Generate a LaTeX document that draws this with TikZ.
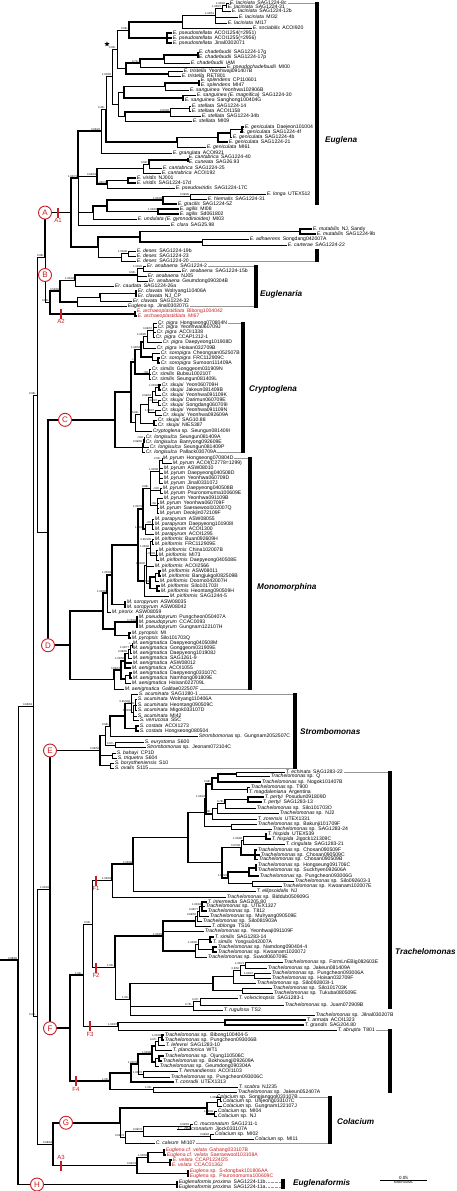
\documentclass[tikz,border=0pt]{standalone}
\usepackage{fontspec}
\setmainfont{Liberation Sans}
\usetikzlibrary{calc,shapes.geometric}
\definecolor{rd}{RGB}{200,30,35}
\definecolor{glc}{RGB}{150,150,150}
\tikzset{
 leaf/.style={anchor=west, inner xsep=0.7pt, inner ysep=0pt, font=\fontsize{5.1}{5}\selectfont, text height=3.6pt, text depth=1pt},
 redtxt/.style={text=rd},
 br/.style={line width=0.6pt},
 tk/.style={line width=1.7pt},
 sup/.style={font=\fontsize{2.7}{3}\selectfont, inner sep=0.3pt, anchor=south east},
 circ/.style={circle, draw=rd, line width=0.9pt, fill=white, text=rd, minimum size=13pt, inner sep=0pt, font=\fontsize{8}{8}\selectfont},
 rbar/.style={draw=rd, line width=1.6pt},
 rlab/.style={text=rd, font=\fontsize{6}{6}\selectfont, inner sep=0.5pt},
 genus/.style={anchor=west, font=\fontsize{8.2}{9}\selectfont\bfseries\itshape, inner sep=0pt},
 gln/.style={draw=glc, line width=0.35pt},
}
\newcommand\lf[6][]{\node[leaf,#1] (#2) at (#3,#4) {\textit{#5}\enspace #6};}
\newcommand\ls[6][]{\node[leaf,#1] (#2) at (#3,#4) {\textit{#5} sp.\enspace #6};}
\newcommand\nd[6][]{%
 \path let \p1=(#4), \p2=(#5) in coordinate (#2) at (#3pt,{(\y1+\y2)/2});
 \draw[br,#1] (#2) |- (#4);
 \draw[br,#1] (#2) |- (#5);
 \if\relax\detokenize{#6}\relax\else
 \foreach \mych in {#6}{\draw[br,#1] (#2) |- (\mych);}%
 \fi}
\newcommand\ek[2]{\draw[br,tk] (#1) |- (#2);}
\newcommand\supl[2]{\node[sup] (s-#1) at ([xshift=-0.4pt,yshift=0.3pt]#1) {#2};}
\newcommand\circat[4]{\path let \p1=(#2) in node[circ] (#1) at (#3pt,\y1) {#4};}
\newcommand\rmark[6]{%
 \path let \p1=(#2) in coordinate (#1t) at (#3pt,\y1+5pt) coordinate (#1b) at (#3pt,\y1-5pt);
 \draw[rbar] (#1t) -- (#1b);
 \node[rlab, anchor=#6] (#1l) at (#1#5) {#4};}
\begin{document}
\begin{tikzpicture}[x=1pt,y=-1pt]
\fill[white] (0,0) rectangle (456,1191);
\useasboundingbox (0,0) rectangle (456,1191);
% ---------------- Euglena leaves
\lf{e1}{229}{3}{E. laciniata}{SAG1224-8c}
\lf{e2}{227}{7}{E. laciniata}{SAG1224-31}
\lf{e3}{231}{11.5}{E. laciniata}{SAG1224-12b}
\lf{e4}{238}{17.5}{E. laciniata}{MI32}
\lf{e5}{227}{23}{E. laciniata}{MI17}
\lf{e6}{252}{28}{E. sociabilis}{ACOI920}
\lf{e7}{172}{33}{E. pseudostellata}{ACOI1254(=2951)}
\lf{e8}{172}{38}{E. pseudostellata}{ACOI1255(=2956)}
\lf{e9}{172}{43}{E. pseudostellata}{Jinal0302071}
\lf{e10}{198}{52}{E. chadefaudii}{SAG1224-17g}
\lf{e11}{198}{57.5}{E. chadefaudii}{SAG1224-17p}
\lf{e12}{190}{63}{E. chadefaudii}{IAM}
\lf{e13}{226}{67.5}{E. pseudochadefaudii}{MI00}
\lf{e14}{183}{71.5}{E. tristella}{Yeonhwaji091407B}
\lf{e15}{181}{76}{E. tristella}{RET801}
\lf{e16}{200}{80.5}{E. splendens}{CP110601}
\lf{e17}{200}{85}{E. splendens}{MI47}
\lf{e18}{189}{90}{E. sanguinea}{Yeonhwa102906B}
\lf{e19}{196}{95.5}{E. sanguinea (E. magnifica)}{SAG1224-30}
\lf{e20}{184}{100.5}{E. sanguinea}{Sanghong100404G}
\lf{e21}{191}{106}{E. stellata}{SAG1224-14}
\lf{e22}{191}{111}{E. stellata}{ACOI1158}
\lf{e23}{201}{116}{E. stellata}{SAG1224-34b}
\lf{e24}{192}{121}{E. stellata}{MI09}
\lf{e25}{244}{127}{E. geniculata}{Daejeon101004}
\lf{e26}{240}{132}{E. geniculata}{SAG1224-4f}
\lf{e27}{232}{137}{E. geniculata}{SAG1224-4b}
\lf{e28}{228}{142}{E. geniculata}{SAG1224-21}
\lf{e29}{206}{147}{E. geniculata}{MI61}
\lf{e30}{172}{153}{E. granulata}{ACOI921}
\lf{e31}{188}{157.5}{E. cantabrica}{SAG1224-40}
\lf{e32}{188}{162}{E. cuneata}{SAG26.93}
\lf{e33}{162}{168}{E. cantabrica}{SAG1224-25}
\lf{e34}{161}{173}{E. cantabrica}{ACOI192}
\lf{e35}{136}{178}{E. viridis}{NJ001}
\lf{e36}{136}{183}{E. viridis}{SAG1224-17d}
\lf{e37}{175}{188}{E. pseudoviridis}{SAG1224-17C}
\lf{e38}{266}{194}{E. longa}{UTEX512}
\lf{e39}{207}{199}{E. hiemalis}{SAG1224-31}
\lf{e40}{177}{204}{E. gracilis}{SAG1224-5Z}
\lf{e41}{179}{209}{E. agilis}{MI08}
\lf{e42}{179}{214}{E. agilis}{Sd061802}
\lf{e43}{137}{219}{E. undulata (E. gymnodinioides)}{MI03}
\lf{e44}{170}{225}{E. clara}{SAG25.98}
\lf{e45}{312}{229}{E. mutabilis}{NJ, Sandy}
\lf{e46}{316}{234}{E. mutabilis}{SAG1224-9b}
\lf{e47}{249}{239}{E. adhaerens}{Songdang042007A}
\lf{e48}{287}{245}{E. carterae}{SAG1224-22}
\lf{e49}{136}{251}{E. deses}{SAG1224-19b}
\lf{e50}{136}{256}{E. deses}{SAG1224-23}
\lf{e51}{136}{261}{E. deses}{SAG1224-20}
% ---------------- Euglenaria
\lf{r1}{146}{266}{Er. anabaena}{SAG1224-2}
\lf{r2}{181}{271}{Er. anabaena}{SAG1224-15b}
\lf{r3}{147}{276}{Er. anabaena}{NJ05}
\lf{r4}{148}{281}{Er. anabaena}{Geumdong090304B}
\lf{r5}{114}{286}{Er. caudata}{SAG1224-26a}
\lf{r6}{137}{291}{Er. clavata}{Wolryang110406A}
\lf{r7}{137}{296}{Er. clavata}{NJ\_CP}
\lf{r8}{132}{301.5}{Er. clavata}{SAG1224-32}
\ls{r9}{127}{306.5}{Euglena}{Jinal030207G}
\lf[redtxt]{r10}{136}{311.5}{E. archaeoplastidiata}{Bibong1004042}
\lf[redtxt]{r11}{137}{316}{E. archaeoplastidiata}{MI67}
% ---------------- Cryptoglena
\lf{c1}{157}{323}{Cr. pigra}{Hongseong070804N}
\lf{c2}{157}{327.5}{Cr. pigra}{Yeonhwa060709J}
\lf{c3}{156}{332}{Cr. pigra}{ACOI1338}
\lf{c4}{155}{337}{Cr. pigra}{CCAP1212-1}
\lf{c5}{162}{342.5}{Cr. pigra}{Daepyeong101908D}
\lf{c6}{156}{348}{Cr. pigra}{Hoisan032709B}
\lf{c7}{160}{353}{Cr. soropigra}{Cheongsan052507B}
\lf{c8}{160}{358}{Cr. soropigra}{FRC112909C}
\lf{c9}{160}{363}{Cr. soropigra}{Sumoon111409A}
\lf{c10}{151}{369}{Cr. similis}{Gonggeom031909N}
\lf{c11}{151}{374}{Cr. similis}{Bubsu100210T}
\lf{c12}{151}{379}{Cr. similis}{Seungun081409L}
\lf{c13}{161}{385}{Cr. skujai}{Yeon060709H}
\lf{c14}{161}{390}{Cr. skujai}{Jakeun081409B}
\lf{c15}{161}{395}{Cr. skujai}{Yeonhwa091109K}
\lf{c16}{161}{400}{Cr. skujai}{Darimun060709E}
\lf{c17}{161}{405}{Cr. skujai}{Songdang060709I}
\lf{c18}{161}{410}{Cr. skujai}{Yeonhwa091109N}
\lf{c19}{162}{415}{Cr. skujai}{Yeonhwa092609A}
\lf{c20}{157}{420.5}{Cr. skujai}{SAG10.88}
\lf{c21}{157}{425.5}{Cr. skujai}{NIES387}
\ls{c22}{152}{431}{Cryptoglena}{Seungun081409I}
\lf{c23}{145}{437}{Cr. longisulca}{Seungun081409A}
\lf{c24}{145}{442}{Cr. longisulca}{Banryong092609E}
\lf{c25}{149}{447}{Cr. longisulca}{Seungun081409P}
\lf{c26}{145}{452}{Cr. longisulca}{Pallack030709A}
% ---------------- Monomorphina
\lf{m1}{162}{458}{M. pyrum}{Hongseong070804D}
\lf{m2}{172}{463}{M. pyrum}{ACOI(C2778=1299)}
\lf{m3}{163}{468}{M. pyrum}{ASW08010}
\lf{m4}{163}{473}{M. pyrum}{Daepyeong040508D}
\lf{m5}{163}{478}{M. pyrum}{Yeonhwa060709D}
\lf{m6}{163}{483}{M. pyrum}{Jinal033107J}
\lf{m7}{162}{488}{M. pyrum}{Daepyeong040508B}
\lf{m8}{163}{493}{M. pyrum}{Psuronomuma100609E}
\lf{m9}{163}{498}{M. pyrum}{Yeonhwa091109B}
\lf{m10}{159}{503}{M. pyrum}{Yeonhwa060709F}
\lf{m11}{159}{508}{M. pyrum}{Saeraewool102007Q}
\lf{m12}{159}{513}{M. pyrum}{Deokjin072109F}
\lf{m13}{154}{519}{M. parapyrum}{ASW08055}
\lf{m14}{154}{524}{M. parapyrum}{Daepyeong101908I}
\lf{m15}{154}{529}{M. parapyrum}{ACOI1300}
\lf{m16}{154}{534}{M. parapyrum}{ACOI1295}
\lf{m17}{154}{539}{M. piriformis}{Buan092609H}
\lf{m18}{154}{544}{M. piriformis}{FRC112909E}
\lf{m19}{158}{550}{M. piriformis}{China102007B}
\lf{m20}{158}{555}{M. piriformis}{MI73}
\lf{m21}{159}{560}{M. piriformis}{Daepyeong040508E}
\lf{m22}{154}{566}{M. piriformis}{ACOI2566}
\lf{m23}{161}{571}{M. piriformis}{ASW08011}
\lf{m24}{161}{576}{M. piriformis}{Bangjukgol082509B}
\lf{m25}{159}{581}{M. piriformis}{Doomo042007H}
\lf{m26}{160}{586}{M. piriformis}{Silo101703I}
\lf{m27}{160}{591}{M. piriformis}{Heontang090509H}
\lf{m28}{169}{596}{M. piriformis}{SAG1244-5}
\lf{m29}{126}{602}{M. soropyrum}{ASW08035}
\lf{m30}{126}{607}{M. soropyrum}{ASW08042}
\lf{m31}{111}{612}{M. pirorix}{ASW08059}
\lf{m32}{138}{617}{M. pseudopyrum}{Pungcheon050407A}
\lf{m33}{138}{622}{M. pseudopyrum}{CCAC0093}
\lf{m34}{138}{627}{M. pseudopyrum}{Gungnam122107H}
\lf{m35}{131}{633}{M. pyropsis}{MI}
\lf{m36}{131}{638}{M. pyropsis}{Silo101703Q}
\lf{m37}{132}{643}{M. aenigmatica}{Daepyeong040508M}
\lf{m38}{132}{648}{M. aenigmatica}{Gonggeom031909E}
\lf{m39}{132}{653}{M. aenigmatica}{Daepyeong101908J}
\lf{m40}{132}{658}{M. aenigmatica}{SAG1261-9}
\lf{m41}{132}{663}{M. aenigmatica}{ASW08012}
\lf{m42}{131}{668}{M. aenigmatica}{ACOI1055}
\lf{m43}{132}{673}{M. aenigmatica}{Daepyeong033107C}
\lf{m44}{132}{678}{M. aenigmatica}{Namhong091809E}
\lf{m45}{131}{683}{M. aenigmatica}{Hoisan022709L}
\lf{m46}{124}{689}{M. aenigmatica}{Galdae022507F}
% ---------------- Strombomonas
\lf{s1}{138}{694}{S. acuminata}{SAG1280-1}
\lf{s2}{137}{699.5}{S. acuminata}{Wolryang110406A}
\lf{s3}{137}{705}{S. acuminata}{Heontang090509C}
\lf{s4}{137}{710.5}{S. acuminata}{Migok033107D}
\lf{s5}{137}{716}{S. acuminata}{MI42}
\lf{s6}{139}{720.5}{S. verrucosa}{S5C}
\lf{s7}{139}{726}{S. costata}{ACOI1273}
\lf{s8}{139}{731}{S. costata}{Hongseong080504}
\ls{s9}{198}{736}{Strombomonas}{Gungnam2052507C}
\lf{s10}{144}{742.5}{S. eurystoma}{S600}
\ls{s11}{146}{747.5}{Strombomonas}{Jeonam072104C}
\lf{s12}{116}{753}{S. bahayi}{CP1D}
\lf{s13}{117}{758}{S. triquetra}{S604}
\lf{s14}{114}{763}{S. borystheniensis}{S10}
\lf{s15}{114}{768}{S. ovalis}{S115}
% ---------------- Trachelomonas
\lf{t1}{285}{772}{T. echinata}{SAG1283-22}
\ls{t2}{270}{776.5}{Trachelomonas}{Q}
\ls{t3}{261}{782}{Trachelomonas}{Nogok101407B}
\ls{t4}{250}{787}{Trachelomonas}{T900}
\lf{t5}{248}{792}{T. magdaleniana}{Argentina}
\lf{t6}{264}{797}{T. pertyi}{Posudun091809D}
\lf{t7}{262}{802}{T. pertyi}{SAG1283-13}
\ls{t8}{256}{808}{Trachelomonas}{Silo101703O}
\ls{t9}{279}{813}{Trachelomonas}{NJ2}
\lf{t10}{257}{819}{T. zorensis}{UTEX1331}
\ls{t11}{257}{824}{Trachelomonas}{Bakunji101709F}
\ls{t12}{272}{829}{Trachelomonas}{SAG1283-24}
\lf{t13}{267}{834}{T. hispida}{UTEX539}
\lf{t14}{271}{839}{T. hispida}{Jigock121309C}
\lf{t15}{285}{844}{T. cingulata}{SAG1283-21}
\ls{t16}{257}{850}{Trachelomonas}{Chosan090509F}
\ls{t17}{260}{855}{Trachelomonas}{Chosan090509C}
\ls{t18}{258}{859.5}{Trachelomonas}{Chosan090509B}
\ls{t19}{257}{865}{Trachelomonas}{Hongseung091706C}
\ls{t20}{257}{870.5}{Trachelomonas}{Suckhyen092606A}
\ls{t21}{259}{876}{Trachelomonas}{Pungcheon093006G}
\ls{t22}{294}{881}{Trachelomonas}{Silo092603-3}
\ls{t23}{282}{886}{Trachelomonas}{Kwoanam102007E}
\lf{t24}{256}{891}{T. ellipsoidalis}{NJ}
\ls{t25}{226}{897}{Trachelomonas}{Biddub050909G}
\lf{t26}{207}{902}{T. intermedia}{SAG205.80}
\ls{t27}{205}{906.5}{Trachelomonas}{UTEX1327}
\ls{t28}{207}{911}{Trachelomonas}{T812}
\ls{t29}{209}{916}{Trachelomonas}{Mulryang090509E}
\ls{t30}{202}{921}{Trachelomonas}{Silo081903A}
\lf{t31}{211}{926}{T. oblonga}{TS16}
\ls{t32}{204}{931.5}{Trachelomonas}{Yeonhwaji091109F}
\lf{t33}{214}{937}{T. similis}{SAG1283-14}
\lf{t34}{212}{942}{T. similis}{Yongsu042007A}
\ls{t35}{217}{947}{Trachelomonas}{Namdong090404-4}
\ls{t36}{217}{952}{Trachelomonas}{Kwoanam102007J}
\ls{t37}{207}{957}{Trachelomonas}{Suwol060709E}
\ls{t38}{283}{962}{Trachelomonas}{FormLnEBig082603E}
\ls{t39}{267}{968}{Trachelomonas}{Jakeun081409A}
\ls{t40}{271}{973}{Trachelomonas}{Pungcheon093006A}
\ls{t41}{271}{978}{Trachelomonas}{Hoisan032709F}
\ls{t42}{256}{983}{Trachelomonas}{Silo092803I-1}
\ls{t43}{272}{988}{Trachelomonas}{Silo101703K}
\ls{t44}{273}{993}{Trachelomonas}{Tukuba080509E}
\lf{t45}{238}{998.5}{T. volvocinopsis}{SAG1283-1}
\ls{t46}{284}{1005}{Trachelomonas}{Juam072909B}
\lf{t47}{223}{1010}{T. rugulosa}{TS2}
\ls{t48}{315}{1015}{Trachelomonas}{Jilnal030207B}
\lf{t49}{306}{1020}{T. armata}{ACOI1323}
\lf{t50}{304}{1025}{T. grandis}{SAG204.80}
\lf{t51}{337}{1030}{T. abrupta}{T801}
\ls{t52}{164}{1035}{Trachelomonas}{Bibong100404-5}
\ls{t53}{164}{1040}{Trachelomonas}{Pungcheon093006B}
\lf{t54}{165}{1045}{T. lefevrei}{SAG1283-10}
\lf{t55}{172}{1050.5}{T. planctonica}{WT1}
\ls{t56}{164}{1056}{Trachelomonas}{Ojung110506C}
\ls{t57}{162}{1061}{Trachelomonas}{Bokhoungji092609A}
\ls{t58}{159}{1066}{Trachelomonas}{Geumdong090304A}
\lf{t59}{178}{1071.5}{T. hemandiensis}{ACOI1103}
\ls{t60}{170}{1077}{Trachelomonas}{Pungcheon093006C}
\lf{t61}{174}{1082}{T. conradii}{UTEX1313}
\lf{t62}{238}{1087}{T. scabra}{NJ235}
\ls{t63}{237}{1092}{Trachelomonas}{Jakeun052407A}
% ---------------- Colacium
\ls{k1}{216}{1097}{Colacium}{Songjanggol033107B}
\ls{k2}{222}{1101.5}{Colacium}{Unjeong033107C}
\ls{k3}{222}{1106}{Colacium}{Gungnam122107J}
\ls{k4}{217}{1111.5}{Colacium}{MI04}
\ls{k5}{217}{1116}{Colacium}{NJ}
\lf{k6}{193}{1124}{C. mucronatum}{SAG1211-1}
\lf{k7}{177}{1129}{C. mucronatum}{Jjock033107A}
\ls{k8}{214}{1134}{Colacium}{MI02}
\ls{k9}{254}{1139}{Colacium}{MI11}
\lf{k10}{155}{1143}{C. calvum}{MI107}
% ---------------- A3 clade
\lf[redtxt]{v1}{165}{1150}{Euglena cf. velata}{Gahang033107B}
\lf[redtxt]{v2}{166}{1155}{Euglena cf. velata}{Saeraewool103108A}
\lf[redtxt]{v3}{172}{1160}{E. velata}{CCAP1224/25}
\lf[redtxt]{v4}{171}{1165}{E. velata}{CCAC01362}
\ls[redtxt]{v5}{189}{1171}{Euglena}{S-dongbak101806AA}
\ls[redtxt]{v6}{189}{1176}{Euglena}{Psuronomuma100609C}
\lf{h1}{178}{1182}{Euglenaformis proxima}{SAG1224-11b}
\lf{h2}{178}{1187}{Euglenaformis proxima}{SAG1224-11a}
% ================= internal nodes: Euglena
\nd{nl1}{226}{e1}{e2}{}
\nd{nl2}{222}{nl1}{e3}{}
\nd{nl3}{215}{nl2}{e5}{e4}
\nd{nl4}{182}{nl3}{e6}{}
\nd[tk]{nps}{167}{e7}{e9}{e8}
\nd[tk]{nE5}{129}{nl4}{nps}{}
\nd[tk]{nch1}{198}{e10}{e11}{}
\nd{nch2}{164}{nch1}{e12}{} \ek{nch2}{nch1}
\nd{nch3}{140}{nch2}{e13}{} \ek{nch3}{nch2}
\nd{ntr}{168}{e14}{e15}{}
\nd[tk]{nch4}{126}{nch3}{ntr}{}
\nd{nE4}{117}{nE5}{nch4}{}
\nd[tk]{nsp}{199}{e16}{e17}{}
\nd{nsg2}{165}{nsp}{e18}{} \ek{nsg2}{nsp}
\nd[tk]{nsg1}{183}{e19}{e20}{}
\nd[tk]{nsg3}{124}{nsg2}{nsg1}{}
\nd{nst1}{189}{e21}{e22}{}
\nd{nst2}{170}{nst1}{e23}{}
\nd{nst3}{125}{nst2}{e24}{} \ek{nst3}{nst2}
\nd{nsgst}{118}{nsg3}{nst3}{}
\nd{nE3}{112}{nE4}{nsgst}{}
\nd[tk]{ng1}{242}{e25}{e26}{}
\nd{ng2}{230}{ng1}{e27}{}
\nd[tk]{ng3}{218}{ng2}{e28}{}
\nd{ng4}{177}{ng3}{e29}{} \ek{ng4}{ng3}
\nd{nE2}{106}{nE3}{ng4}{} \ek{nE2}{ng4}
\nd{nE1}{101}{nE2}{e30}{}
\nd[tk]{nc1}{188}{e31}{e32}{}
\nd{nc2}{149}{nc1}{e33}{} \ek{nc2}{nc1}
\nd{nc3}{143}{nc2}{e34}{}
\nd[tk]{nv1}{128}{e35}{e36}{}
\nd{nv2}{107}{nv1}{e37}{} \ek{nv2}{nv1}
\nd[tk]{ncv}{97}{nc3}{nv2}{}
\nd{nlg1}{190}{e38}{e39}{}
\nd[tk]{nlg2}{163}{nlg1}{e40}{}
\nd[tk]{nag}{158}{e41}{e42}{}
\nd[tk]{nlg3}{107}{nlg2}{nag}{}
\nd{nlg4}{93}{nlg3}{e43}{} \ek{nlg4}{nlg3}
\nd{nE0}{78}{nE1}{e44}{ncv,nlg4} \ek{nE0}{nE1}
\nd[tk]{nmu}{300}{e45}{e46}{}
\nd{nad}{202}{e47}{e48}{}
\nd[tk]{nmc}{140}{nmu}{nad}{}
\nd{nde1}{128}{e49}{e50}{}
\nd{nde2}{121}{nde1}{e51}{}
\nd{ndes}{98}{nmc}{nde2}{} \ek{ndes}{nmc}
\nd[tk]{nA}{71}{nE0}{ndes}{}
% Euglenaria
\nd{nan1}{143}{r1}{r2}{}
\nd{nan2}{137}{nan1}{r4}{r3}
\nd{nan3}{75}{nan2}{r5}{} \ek{nan3}{nan2}
\nd[tk]{ncl1}{136}{r6}{r7}{}
\nd{ncl2}{100}{ncl1}{r8}{} \ek{ncl2}{ncl1}
\nd{ncl3}{77}{ncl2}{r9}{}
\nd[tk]{nEr}{60}{nan3}{ncl3}{}
\nd[tk]{narch}{135}{r10}{r11}{}
\nd[tk]{nB}{50}{nEr}{narch}{}
\nd{nAB}{45}{nA}{nB}{} \ek{nAB}{nA}
% Cryptoglena
\nd{npg1}{153}{c1}{c4}{c2,c3}
\nd{npg2}{147}{npg1}{c5}{}
\nd{npg3}{143}{npg2}{c6}{}
\nd[tk]{nso1}{158}{c8}{c9}{}
\nd{nso}{152}{c7}{nso1}{}
\nd[tk]{npgso}{141}{npg3}{nso}{}
\nd{nsi}{149}{c10}{c12}{c11}
\nd[tk]{npss}{135}{npgso}{nsi}{}
\nd[tk]{nsk1}{159}{c13}{c14}{}
\nd{nsk2}{155}{nsk1}{c15}{}
\nd{nsk3}{158}{c16}{c17}{}
\nd{nsk4}{152}{nsk2}{nsk3}{}
\nd{nsk5}{155}{c18}{c19}{}
\nd{nsk6}{148}{nsk4}{nsk5}{}
\nd[tk]{nsk7}{154}{c20}{c21}{}
\nd{nsk8}{140}{nsk6}{nsk7}{}
\nd{nsk9}{135}{nsk8}{c22}{}
\nd[tk]{nup}{131}{npss}{nsk9}{}
\nd{nlo1}{144}{c23}{c24}{}
\nd{nlo2}{143}{nlo1}{c25}{}
\nd{nlo3}{142}{nlo2}{c26}{}
\nd[tk]{nC}{115}{nup}{nlo3}{}
% Monomorphina
\nd{nmp1}{162}{m1}{m2}{}
\nd{nmp2}{159}{nmp1}{m6}{m3,m4,m5}
\nd{nmp3}{160}{m7}{m8}{}
\nd{nmp4}{157}{m9}{m12}{m10,m11}
\nd{nmpy}{150}{nmp2}{nmp4}{nmp3}
\nd{npp1}{152}{m13}{m15}{m14}
\nd{npp}{145}{npp1}{m16}{}
\nd[tk]{nmpyp}{143}{nmpy}{npp}{}
\nd{npi1}{152}{m17}{m18}{}
\nd{npi2}{156}{m19}{m21}{m20}
\nd{npi3}{150}{npi1}{npi2}{}
\nd[tk]{npi4}{159}{m23}{m24}{}
\nd{npi5}{155}{npi4}{m25}{}
\nd[tk]{npi6}{157}{m26}{m27}{}
\nd[tk]{npi7}{150}{npi5}{npi6}{}
\nd{npi8}{146}{npi3}{npi7}{m22}
\nd{npi9}{144}{npi8}{m28}{}
\nd[tk]{nm1}{138}{nmpyp}{npi9}{}
\nd[tk]{nso2}{125}{m29}{m30}{}
\nd[tk]{nmA}{112}{nm1}{nso2}{}
\nd{nmB}{107}{nmA}{m31}{} \ek{nmB}{nmA}
\nd[tk]{nps3}{137}{m32}{m34}{m33}
\nd[tk]{npyr}{129}{m35}{m36}{}
\nd[tk]{nmC}{115}{nps3}{npyr}{}
\nd[tk]{nmD}{103}{nmB}{nmC}{}
\nd{nae1}{132}{m37}{m38}{}
\nd{nae2}{130}{nae1}{m39}{}
\nd{nae3}{128}{nae2}{m40}{}
\nd[tk]{nae4}{125}{nae3}{m42}{m41}
\nd[tk]{nae5}{130}{m43}{m44}{}
\nd{nae6}{125}{nae5}{m45}{}
\nd[tk]{nae7}{121}{nae4}{nae6}{}
\nd{nae8}{114}{nae7}{m46}{} \ek{nae8}{nae7}
\nd[tk]{nD}{70}{nmD}{nae8}{}
\nd[tk]{nCD}{48}{nC}{nD}{}
% Strombomonas
\nd{ns1}{135}{s2}{s4}{s3}
\nd{ns2}{133}{ns1}{s6}{s5}
\nd{ns3}{131}{s1}{ns2}{}
\nd[tk]{ns4}{136}{s7}{s8}{}
\nd[tk]{ns5}{125}{ns3}{ns4}{}
\nd{ns6}{110}{ns5}{s9}{} \ek{ns6}{ns5}
\nd{ns7}{115}{s10}{s11}{}
\nd{ns8}{105}{ns6}{ns7}{}
\nd{ns9}{112}{s12}{s13}{}
\nd{ns10}{110}{s14}{s15}{}
\nd[tk]{nSr}{100}{ns8}{ns10}{ns9}
% Trachelomonas F1
\nd{nt1}{236}{t1}{t2}{}
\nd[tk]{nt2}{218}{nt1}{t3}{}
\nd{nt3}{247}{t4}{t5}{}
\nd[tk]{nt4}{212}{nt2}{nt3}{}
\nd[tk]{nt5}{248}{t6}{t7}{}
\nd{nt6}{225}{nt5}{t8}{} \ek{nt6}{nt5}
\nd{nt7}{217}{nt6}{t9}{}
\nd{nt8}{212}{nt7}{t10}{}
\nd[tk]{nt9}{206}{nt4}{nt8}{}
\nd{nt10}{231}{t11}{t12}{}
\nd{nt11}{204}{nt9}{nt10}{}
\nd[tk]{nh1}{266}{t13}{t14}{}
\nd{nh2}{243}{nh1}{t15}{}
\nd[tk]{nh3}{255}{t16}{t18}{t17}
\nd{nh4}{241}{nh2}{nh3}{} \ek{nh4}{nh3}
\nd[tk]{nh5}{256}{t19}{t20}{}
\nd[tk]{nh6}{249}{nh5}{t21}{}
\nd{nh7}{252}{t22}{t23}{}
\nd{nh8}{228}{nh6}{nh7}{} \ek{nh8}{nh6}
\nd[tk]{nh9}{222}{nh4}{nh8}{}
\nd[tk]{nT1a}{188}{nt11}{nh9}{}
\nd{nT1}{133}{nT1a}{t24}{} \ek{nT1}{nT1a}
\nd{nF1}{112}{nT1}{t25}{} \ek{nF1}{nT1}
% F2
\nd[tk]{ni1}{202}{t26}{t28}{t27}
\nd{ni2}{199}{ni1}{t29}{}
\nd{ni3}{197}{ni2}{t30}{}
\nd{ni4}{195}{ni3}{t31}{}
\nd[tk]{nsi1}{210}{t33}{t34}{}
\nd[tk]{nsi2}{213}{t35}{t36}{}
\nd{nsi3}{198}{nsi1}{nsi2}{}
\nd{nsi4}{195}{nsi3}{t37}{}
\nd[tk]{ni6}{163}{ni4}{nsi4}{t32}
\nd{nf1}{245}{t38}{t39}{}
\nd{nf2}{254}{t40}{t41}{}
\nd{nf3}{240}{nf1}{nf2}{}
\nd{nf4}{233}{nf3}{t42}{}
\nd{nf5}{242}{t43}{t44}{}
\nd[tk]{nf6}{213}{nf4}{nf5}{}
\nd{nv1x}{200}{t45}{t46}{}
\nd{nv2x}{193}{nv1x}{t47}{}
\nd{nv4}{130}{nf6}{t48}{nv2x} \ek{nv4}{nf6}
\nd{nF2}{115}{ni6}{nv4}{} \ek{nF2}{ni6}
% F3
\nd[tk]{nag2}{225}{t49}{t50}{}
\nd{nF3}{118}{nag2}{t51}{} \ek{nF3}{nag2}
% F4
\nd[tk]{nb1}{162}{t52}{t53}{}
\nd{nb2}{158}{nb1}{t54}{}
\nd{nb3}{155}{nb2}{t55}{}
\nd[tk]{nb4}{159}{t56}{t57}{}
\nd{nb5}{155}{nb4}{t58}{}
\nd[tk]{nb6}{152}{nb3}{nb5}{}
\nd{nb7}{143}{t59}{t60}{}
\nd{nb8}{138}{nb6}{nb7}{} \ek{nb8}{nb6}
\nd[tk]{nb9}{131}{nb8}{t61}{}
\nd{nb10}{153}{t62}{t63}{}
\nd[tk]{nF4}{110}{nb9}{nb10}{}
\nd{nF12}{92}{nF1}{nF2}{}
\nd{nF123}{83}{nF12}{nF3}{}
\nd[tk]{nF}{70}{nF123}{nF4}{}
\nd{nEF}{50}{nSr}{nF}{} \ek{nEF}{nSr} \ek{nEF}{nF}
% Colacium and A3
\nd{nco1}{220}{k1}{k2}{}
\nd{nco2}{217}{nco1}{k3}{}
\nd{nco3}{214}{k4}{k5}{}
\nd[tk]{nco4}{207}{nco2}{nco3}{}
\nd{nco5}{190}{k6}{k7}{}
\nd{nco6}{210}{k8}{k9}{}
\nd{nco7}{143}{nco5}{nco6}{}
\nd{nco8}{125}{nco7}{k10}{}
\nd{nco9}{120}{nco4}{nco8}{} \ek{nco9}{nco4}
\nd[tk]{nv5}{164}{v1}{v2}{}
\nd[tk]{nv6}{170}{v3}{v4}{}
\nd[tk]{nv7}{148}{nv5}{nv6}{}
\nd[tk]{nv8}{188}{v5}{v6}{}
\nd[tk]{nA3}{137}{nv7}{nv8}{}
\nd[tk]{nGA}{53}{nco9}{nA3}{}
\nd{nEFGA}{37}{nEF}{nGA}{}
\nd[tk]{nH}{177}{h1}{h2}{}
% backbone
\nd{nABCD}{37}{nAB}{nCD}{}
\nd{ntop}{33}{nABCD}{nEFGA}{}
\coordinate (nroot) at (18,960);
\coordinate (r0) at (0,960);
\draw[br] (nroot) |- (ntop);
\draw[br,tk] (nroot) |- (nH);
\draw[br,tk] (r0) -- (nroot);
% ---------------- support values
\supl{nl1}{1.00/92} \supl{nl2}{1.00/97} \supl{nl3}{1.00/51}
\supl{nE5}{0.99/-} \supl{nE4}{0.85/-} \supl{nch3}{0.71/-}
\supl{nE3}{1.00/86} \supl{nE2}{0.43/-} \supl{nst2}{0.97/82}
\supl{nE1}{0.95/26} \supl{nc2}{0.82/-} \supl{ncv}{0.94/54}
\supl{nv2}{1.00/72} \supl{nE0}{1.00/73} \supl{nlg2}{1.00/99}
\supl{nlg1}{0.99/99} \supl{nag}{1.00/97} \supl{nde1}{1.00/96}
\supl{nAB}{0.99/-} \supl{nan1}{1.00/26} \supl{nan2}{0.95/-}
\supl{nan3}{1.00/93} \supl{nEr}{0.53/80} \supl{nB}{0.83/-}
\supl{nABCD}{0.98/-} \supl{npg1}{0.99/57} \supl{npg2}{1.00/85}
\supl{npgso}{1.00/53} \supl{npss}{-/-} \supl{nsi}{-/98}
\supl{nsk1}{1.00/92} \supl{nsk4}{0.99/62} \supl{nsk3}{0.63/87}
\supl{nsk5}{1.00/97} \supl{nsk8}{0.84/-} \supl{nlo1}{-/100}
\supl{nlo2}{0.99/65}
\supl{nmp1}{0.53/-} \supl{nmp2}{1.00/98} \supl{nmp3}{-/100}
\supl{nmp4}{-/90} \supl{nmpy}{0.88/-} \supl{nmpyp}{1.00/75}
\supl{npp1}{-/93} \supl{npp}{1.00/97} \supl{npi1}{0.96/100}
\supl{npi3}{1.00/96} \supl{npi2}{1.00/99} \supl{npi8}{1.00/90}
\supl{npi7}{1.00/91} \supl{nmA}{1.00/93} \supl{nmB}{1.00/86}
\supl{nps3}{0.75/99} \supl{nae1}{-/-} \supl{nae2}{1.00/77}
\supl{nae3}{0.99/65} \supl{nae7}{0.99/57} \supl{nae4}{1.00/50}
\supl{ns3}{0.95/100} \supl{ns1}{1.00/98} \supl{ns2}{1.00/99}
\supl{ns6}{0.98/-} \supl{ns7}{0.97/-} \supl{nSr}{0.99/50}
\supl{ntop}{0.98/63} \supl{nroot}{0.98/85}
\supl{nt4}{0.98/-} \supl{nt9}{1.00/93} \supl{nt6}{0.78/-}
\supl{nt8}{0.99/-} \supl{nh2}{1.00/86} \supl{nh4}{0.97/98}
\supl{nh8}{1.00/93} \supl{nT1}{1.00/96} \supl{nF1}{1.00/53}
\supl{nEF}{1.00/82} \supl{ni1}{1.00/92} \supl{ni2}{0.96/77}
\supl{ni3}{0.89/50} \supl{ni6}{1.00/83} \supl{nsi3}{1.00/95}
\supl{nF12}{0.92/-} \supl{nF2}{1.00/-} \supl{nv4}{1.00/-}
\supl{nf1}{1.00/71} \supl{nf2}{1.00/97} \supl{nf3}{0.6/50}
\supl{nv1x}{0.47/-} \supl{nv2x}{0.76/-} \supl{nF123}{1.00/-}
\supl{nF3}{1.00/87} \supl{nEFGA}{0.94/-}
\supl{nb1}{1.00/98} \supl{nb2}{0.97/-} \supl{nb6}{1.00/98}
\supl{nb8}{1.00/78} \supl{nb7}{1.00/72} \supl{nF4}{1.00/-}
\supl{nb10}{1.00/-}
\supl{nco1}{1.00/98} \supl{nco3}{1.00/99} \supl{nco5}{0.93/83}
\supl{nco7}{0.99/72} \supl{nco6}{0.99/84} \supl{nco8}{0.92/72}
\supl{nGA}{0.98/64} \supl{nA3}{0.64/78} \supl{nv7}{1.00/93}
% star
\node[star, star points=5, star point ratio=2.3, fill=black, inner sep=0pt, minimum size=5.5pt] (stt) at (107,44) {};
% ---------------- clade circles and marks
\circat{cA}{nA}{45}{A}
\node[circ] (cB) at (45,275) {B};
\circat{cC}{nC}{65}{C}
\circat{cD}{nD}{48}{D}
\circat{cE}{nSr}{50}{E}
\circat{cF}{nF}{50}{F}
\circat{cG}{nco9}{66}{G}
\circat{cH}{nH}{37}{H}
\rmark{ma1}{nA}{58}{A1}{b}{north}
\rmark{ma2}{narch}{61}{A2}{b}{north}
\rmark{mf1}{nF1}{96}{F1}{b}{north}
\rmark{mf2}{nF2}{96}{F2}{b}{north}
\rmark{mf3}{nF3}{90}{F3}{b}{north}
\rmark{mf4}{nF4}{76}{F4}{b}{north}
\rmark{ma3}{nA3}{61}{A3}{t}{south}
% ---------------- genus bars
\coordinate (bEu) at (315,0); \coordinate (bEr) at (254,0);
\coordinate (bCr) at (241,0); \coordinate (bMo) at (248,0);
\coordinate (bSt) at (293,0); \coordinate (bTr) at (388,0);
\coordinate (bCo) at (328,0); \coordinate (bEf) at (281,0);
\fill (315,2) rectangle (319,205);
\fill (315,249) rectangle (319,262);
\fill (254,265) rectangle (257.5,308);
\fill (241,322) rectangle (245,453);
\fill (248,457) rectangle (252,690);
\fill (293,693) rectangle (297,769);
\fill (388,771) rectangle (392,1009);
\fill (388,1029) rectangle (392,1093);
\fill (328,1096) rectangle (332,1144);
\fill (281,1179) rectangle (285,1189);
\draw[gln] (e1.east) -- (e1.east -| bEu);
\draw[gln] (e51.east) -- (e51.east -| bEu);
\draw[gln] (r1.east) -- (r1.east -| bEr);
\draw[gln] (r9.east) -- (r9.east -| bEr);
\draw[gln] (c1.east) -- (c1.east -| bCr);
\draw[gln] (c26.east) -- (c26.east -| bCr);
\draw[gln] (m1.east) -- (m1.east -| bMo);
\draw[gln] (m46.east) -- (m46.east -| bMo);
\draw[gln] (s1.east) -- (s1.east -| bSt);
\draw[gln] (s15.east) -- (s15.east -| bSt);
\draw[gln] (t1.east) -- (t1.east -| bTr);
\draw[gln] (t51.east) -- (t51.east -| bTr);
\draw[gln] (k1.east) -- (k1.east -| bCo);
\draw[gln] (k10.east) -- (k10.east -| bCo);
\draw[gln, densely dotted] (h1.east) -- (h1.east -| bEf);
\draw[gln, densely dotted] (h2.east) -- (h2.east -| bEf);
\node[genus] (gEu) at (325,140) {Euglena};
\node[genus] (gEr) at (260,294) {Euglenaria};
\node[genus] (gCr) at (249,389) {Cryptoglena};
\node[genus] (gMo) at (257,587) {Monomorphina};
\node[genus] (gSt) at (300,732) {Strombomonas};
\node[genus] (gTr) at (395,952) {Trachelomonas};
\node[genus] (gCo) at (337,1122) {Colacium};
\node[genus] (gEf) at (293,1183) {Euglenaformis};
% scale bar
\coordinate (sb1) at (380,1180); \coordinate (sb2) at (427,1180);
\draw[line width=0.6pt] (sb1) -- (sb2);
\node[font=\fontsize{4.5}{5}\selectfont, anchor=south, inner sep=0.6pt] (sbt) at ($(sb1)!0.5!(sb2)$) {0.05};
\node[font=\fontsize{3.6}{4}\selectfont, anchor=north, inner sep=0.6pt] (sbb) at ($(sb1)!0.5!(sb2)$) {MrB/RAxML};
\end{tikzpicture}
\end{document}
